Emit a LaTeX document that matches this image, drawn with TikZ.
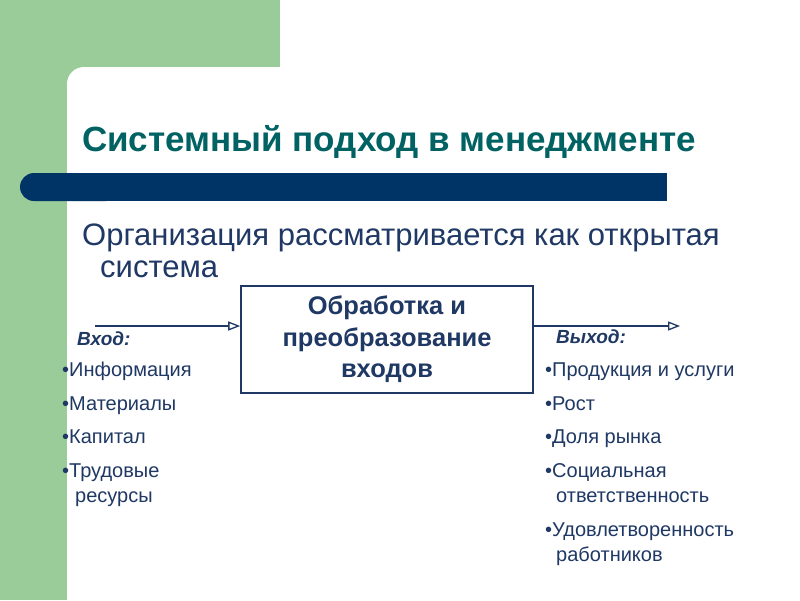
\documentclass[tikz,border=0pt]{standalone}
\usepackage{fontspec}
\setmainfont{Liberation Sans}
\usetikzlibrary{arrows.meta}
\definecolor{greenbg}{HTML}{99CC99}
\definecolor{barblue}{HTML}{003366}
\definecolor{titleteal}{HTML}{006262}
\definecolor{txtnavy}{HTML}{1F3864}
\tikzset{
  listtxt/.style={anchor=base west, inner sep=0pt, text=txtnavy, font=\fontsize{20}{24}\selectfont},
  headtxt/.style={anchor=base west, inner sep=0pt, text=txtnavy, font=\fontsize{19}{22}\selectfont\bfseries\itshape},
  flow/.style={draw=txtnavy, line width=1.3pt, -{Triangle[open, length=12pt, width=9pt]}},
}
\begin{document}
\begin{tikzpicture}[x=1pt,y=-1pt]
\useasboundingbox (0,0) rectangle (800,600);
\fill[greenbg] (0,0) rectangle (800,600);
% white area with rounded top-left corner
\fill[white] (67,600) -- (67,84) arc[start angle=180, end angle=90, radius=17pt] -- (280,67) -- (280,0) -- (800,0) -- (800,600) -- cycle;
% blue bar
\fill[barblue, rounded corners=14pt] (20,173) rectangle (120,201);
\fill[barblue] (60,173) rectangle (667,201);
% title
\node[anchor=base west, inner sep=0pt, text=titleteal, font=\fontsize{35}{40}\selectfont\bfseries] (title) at (82,151) {Системный подход в менеджменте};
\node[anchor=base west, inner sep=0pt, text=txtnavy, font=\fontsize{31}{36}\selectfont] (sub1) at (82,245) {Организация рассматривается как открытая};
\node[anchor=base west, inner sep=0pt, text=txtnavy, font=\fontsize{31}{36}\selectfont] (sub2) at (100,277) {система};
% box
\node[draw=txtnavy, line width=1.6pt, minimum width=292pt, minimum height=107pt, align=center, text=txtnavy, font=\fontsize{25.5}{31.5}\selectfont\bfseries] (box) at (387,339.5) {Обработка и\\преобразование\\входов};
\coordinate (inS) at (95,326);
\coordinate (outE) at (680,326);
\draw[flow] (inS) -- (inS -| box.west);
\draw[flow] (outE -| box.east) -- (outE);
% input list
\node[headtxt] (inh) at (77,345) {Вход:};
\node[listtxt] (in1) at (62,376) {•Информация};
\node[listtxt] (in2) at (62,410) {•Материалы};
\node[listtxt] (in3) at (62,443) {•Капитал};
\node[listtxt] (in4) at (62,477) {•Трудовые};
\node[listtxt] (in5) at (75,502) {ресурсы};
% output list
\node[headtxt] (outh) at (556,343) {Выход:};
\node[listtxt] (o1) at (545,376) {•Продукция и услуги};
\node[listtxt] (o2) at (545,410) {•Рост};
\node[listtxt] (o3) at (545,443) {•Доля рынка};
\node[listtxt] (o4) at (545,477) {•Социальная};
\node[listtxt] (o5) at (556,502) {ответственность};
\node[listtxt] (o6) at (545,536) {•Удовлетворенность};
\node[listtxt] (o7) at (556,561) {работников};
\end{tikzpicture}
\end{document}
